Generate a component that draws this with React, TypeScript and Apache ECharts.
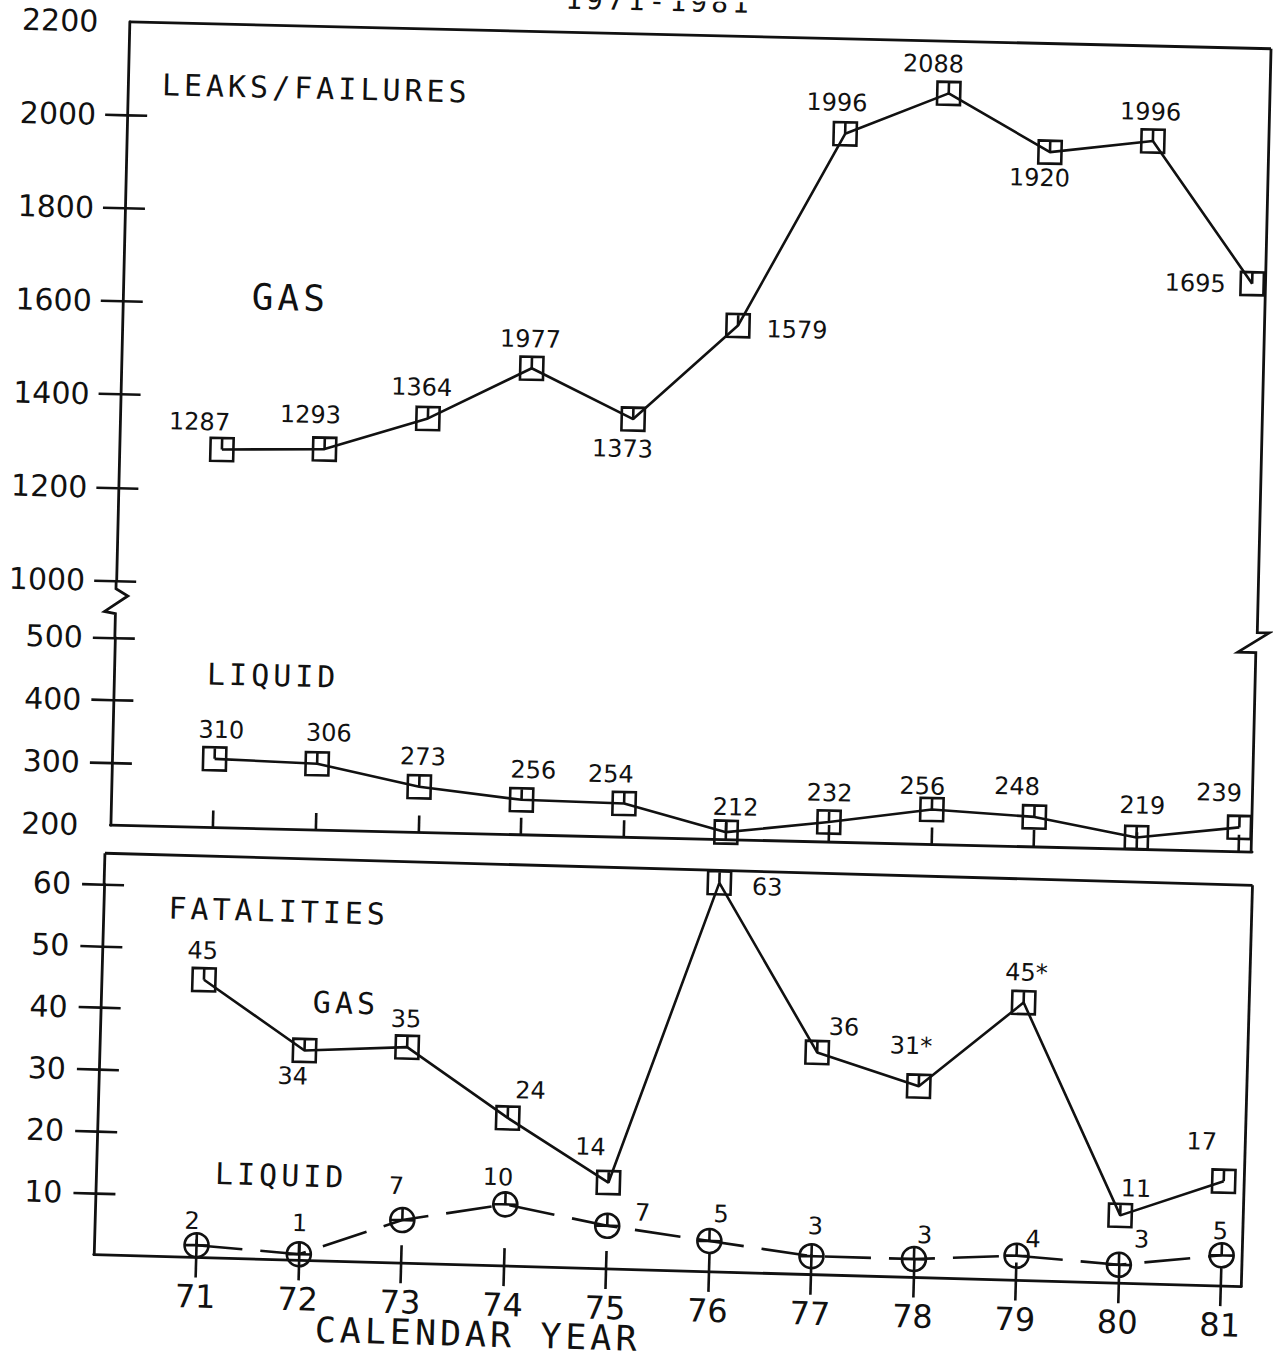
import React, { useEffect, useRef } from "react";
import * as echarts from "echarts";

// ---------- data ----------
const years = [71, 72, 73, 74, 75, 76, 77, 78, 79, 80, 81];
const gasLeaks = [1287, 1293, 1364, 1477, 1373, 1579, 1996, 2088, 1967, 1996, 1695];
const gasLeakLabels = ["1287", "1293", "1364", "1977", "1373", "1579", "1996", "2088", "1920", "1996", "1695"];
const liquidLeaks = [310, 306, 273, 256, 254, 212, 232, 256, 248, 219, 239];
const liquidLeakLabels = ["310", "306", "273", "256", "254", "212", "232", "256", "248", "219", "239"];
const gasFatalities = [45, 34, 35, 24, 14, 63, 36, 31, 45, 11, 17];
const gasFatalityLabels = ["45", "34", "35", "24", "14", "63", "36", "31*", "45*", "11", "17"];
const liquidFatalities = [2, 1, 7, 10, 7, 5, 3, 3, 4, 3, 5];
const liquidFatalityLabels = ["2", "1", "7", "10", "7", "5", "3", "3", "4", "3", "5"];
const upperLeakTicks = [1000, 1200, 1400, 1600, 1800, 2000];
const lowerLeakTicks = [300, 400, 500];
const fatalityTicks = [10, 20, 30, 40, 50, 60];

// ---------- label placement (style) ----------
const gasLeakOffsets = [[-23, -27], [-15, -34], [-7, -31], [-2, -29], [-10, 30], [59, 3], [-9, -31], [-16, -29], [-10, 26], [-3, -29], [-57, 1]];
const liquidLeakOffsets = [[6, -29], [11, -31], [3, -30], [11, -30], [-14, -29], [9, -25], [0, -29], [-10, -23], [-18, -30], [5, -32], [-21, -34]];
const gasFatalOffsets = [[-2, -29], [-11, 26], [-2, -28], [22, -28], [-19, -35], [48, 3], [26, -26], [-9, -40], [2, -30], [15, -27], [-23, -39]];
const liquidFatalOffsets = [[-5, -24], [0, -31], [-7, -34], [-8, -27], [35, -14], [11, -27], [3, -30], [10, -24], [16, -17], [22, -26], [-2, -24]];

const ink = "#111";
const numFont = "DejaVu Sans";
const axisFont = "DejaVu Sans";
const plotFont = "DejaVu Sans Mono, monospace";
const squareSymbol = "path://M0,0L20,0L20,20L0,20Z M10,0L10,10";
const circleSymbol = "path://M0,10A10,10,0,1,1,20,10A10,10,0,1,1,0,10Z M0,10L20,10 M10,0L10,10";

function buildData(values: number[], labels: string[], offsets: number[][]) {
  return years.map((yr, i) => ({
    value: [yr, values[i]],
    label: { formatter: labels[i], offset: offsets[i] },
  }));
}

function yAxisPair(gridIndex: number, min: number, max: number, interval: number, ticks: number[], margin: number, hideZero: boolean) {
  return [
    {
      gridIndex, type: "value", min, max, interval, position: "left",
      axisLine: { show: true, onZero: false, lineStyle: { color: ink, width: 2.8 } },
      axisTick: { show: true, length: 22, customValues: ticks, lineStyle: { color: ink, width: 2.6 } },
      axisLabel: {
        show: true, margin, fontSize: 30, fontFamily: axisFont, color: ink,
        formatter: (v: number) => (hideZero && v === 0 ? "" : String(v)),
      },
      splitLine: { show: false },
    },
    {
      gridIndex, type: "value", min, max, interval, position: "left",
      axisLine: { show: false },
      axisTick: { show: true, inside: true, length: 20, customValues: ticks, lineStyle: { color: ink, width: 2.6 } },
      axisLabel: { show: false },
      splitLine: { show: false },
    },
  ];
}

function labelStyle() {
  return { show: true, position: "inside", color: ink, fontSize: 24, fontFamily: numFont };
}

function lineSeries(name: string, xi: number, yi: number, data: any[], symbol: string, size: number, dash?: number[]) {
  return {
    name, type: "line", xAxisIndex: xi, yAxisIndex: yi, clip: false, data,
    symbol, symbolSize: size, symbolKeepAspect: true,
    lineStyle: { color: ink, width: 2.6, type: dash || "solid" },
    itemStyle: { color: "rgba(0,0,0,0)", borderColor: ink, borderWidth: 2.6 },
    label: labelStyle(),
  };
}

function plotText(text: string, x: number, y: number, size: number, align = "left") {
  return { type: "text", x, y, style: { text, fontSize: size, fontFamily: plotFont, fill: ink, align, verticalAlign: "middle" } };
}

// ---------- top panel: leaks / failures ----------
const topOption: any = {
  animation: false,
  backgroundColor: "transparent",
  grid: [
    { left: 114, top: 34, width: 1142, height: 559 },
    { left: 114, top: 650, width: 1142, height: 187.5 },
  ],
  xAxis: [
    { gridIndex: 0, type: "value", min: 70, max: 81.13, show: false },
    {
      gridIndex: 1, type: "value", min: 70, max: 81.13, interval: 1, position: "bottom",
      axisLine: { show: true, onZero: false, lineStyle: { color: ink, width: 2.8 } },
      axisTick: { show: true, inside: true, length: 17, customValues: years, lineStyle: { color: ink, width: 2.6 } },
      axisLabel: { show: false },
      splitLine: { show: false },
    },
  ],
  yAxis: [
    ...yAxisPair(0, 1000, 2200, 200, upperLeakTicks, 31, false),
    ...yAxisPair(1, 200, 500, 100, lowerLeakTicks, 32, false),
  ],
  series: [
    lineSeries("Gas leaks/failures", 0, 0, buildData(gasLeaks, gasLeakLabels, gasLeakOffsets), squareSymbol, 23),
    lineSeries("Liquid leaks/failures", 1, 2, buildData(liquidLeaks, liquidLeakLabels, liquidLeakOffsets), squareSymbol, 23),
  ],
  graphic: [
    { type: "line", shape: { x1: 114, y1: 34, x2: 1256, y2: 34 }, style: { stroke: ink, lineWidth: 2.8 } },
    {
      type: "polyline",
      shape: { points: [[1256, 34], [1256, 618], [1268, 618], [1237, 638], [1255, 638], [1255, 837.5]] },
      style: { stroke: ink, lineWidth: 2.8, fill: "none" },
    },
    {
      type: "polyline",
      shape: { points: [[114, 593], [114, 601], [126, 608], [103, 624], [114, 626], [114, 650]] },
      style: { stroke: ink, lineWidth: 2.8, fill: "none" },
    },
    plotText("1971-1981", 643, 1, 28, "center"),
    plotText("LEAKS/FAILURES", 148, 96, 30),
    plotText("GAS", 243, 306, 36),
    plotText("LIQUID", 207, 684, 30),
  ],
};

// ---------- bottom panel: fatalities ----------
const bottomOption: any = {
  animation: false,
  backgroundColor: "transparent",
  grid: [{ left: 110, top: 899, width: 1148, height: 370.6 }],
  xAxis: [
    {
      gridIndex: 0, type: "value", min: 70, max: 81.2, interval: 1, position: "bottom",
      axisLine: { show: true, onZero: false, lineStyle: { color: ink, width: 2.8 } },
      axisTick: { show: true, length: 20, customValues: years, lineStyle: { color: ink, width: 2.6 } },
      axisLabel: {
        show: true, customValues: years, margin: 23, fontSize: 32, fontFamily: axisFont, color: ink,
        formatter: (v: number) => (v >= 71 && v <= 81 ? String(v) : ""),
      },
      splitLine: { show: false },
    },
    {
      gridIndex: 0, type: "value", min: 70, max: 81.2, interval: 1, position: "bottom",
      axisLine: { show: false },
      axisTick: { show: true, inside: true, length: 18, customValues: years, lineStyle: { color: ink, width: 2.6 } },
      axisLabel: { show: false },
      splitLine: { show: false },
    },
  ],
  yAxis: [...yAxisPair(0, 0, 60, 10, fatalityTicks, 33, true)],
  series: [
    lineSeries("Gas fatalities", 0, 0, buildData(gasFatalities, gasFatalityLabels, gasFatalOffsets), squareSymbol, 23),
    lineSeries("Liquid fatalities", 0, 0, buildData(liquidFatalities, liquidFatalityLabels, liquidFatalOffsets), circleSymbol, 24, [46, 18]),
  ],
  graphic: [
    { type: "line", shape: { x1: 110, y1: 868, x2: 1258, y2: 868 }, style: { stroke: ink, lineWidth: 2.8 } },
    { type: "line", shape: { x1: 110, y1: 868, x2: 110, y2: 900 }, style: { stroke: ink, lineWidth: 2.8 } },
    { type: "line", shape: { x1: 1258, y1: 868, x2: 1258, y2: 1269.6 }, style: { stroke: ink, lineWidth: 2.8 } },
    plotText("FATALITIES", 175, 921, 30),
    plotText("GAS", 322, 1011, 30),
    plotText("LIQUID", 229, 1185, 30),
    plotText("CALENDAR YEAR", 333, 1338.5, 35),
  ],
};

function ChartLayer({ option, angle }: { option: any; angle: number }) {
  const ref = useRef<HTMLDivElement>(null);
  useEffect(() => {
    const chart = echarts.init(ref.current as HTMLDivElement, null, { renderer: "svg" });
    chart.setOption(option);
    return () => chart.dispose();
  }, [option]);
  return (
    <div
      className="chartbox"
      ref={ref}
      style={{
        position: "absolute",
        left: 0,
        top: 0,
        width: 1273,
        height: 1359,
        transform: `rotate(${angle}deg)`,
        transformOrigin: "636.5px 679.5px",
      }}
    />
  );
}

export default function App() {
  return (
    <>
      <style>{`html,body{margin:0;overflow:hidden;background:#fff}
.chartbox text[style*="monospace"]{letter-spacing:4px}`}</style>
      <div style={{ position: "relative", width: 1273, height: 1359, overflow: "hidden" }}>
        <ChartLayer option={topOption} angle={1.35} />
        <ChartLayer option={bottomOption} angle={1.6} />
      </div>
    </>
  );
}
